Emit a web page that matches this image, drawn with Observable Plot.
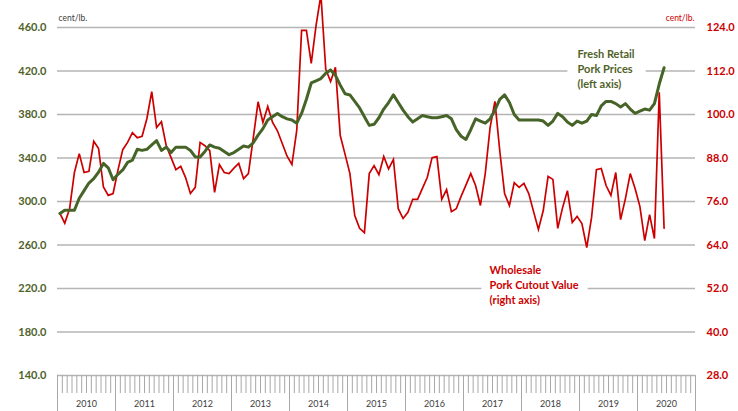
<!DOCTYPE html>
<html>
<head>
<meta charset="utf-8">
<script src="https://cdn.jsdelivr.net/npm/d3@7"></script>
<script src="https://cdn.jsdelivr.net/npm/@observablehq/plot@0.6"></script>
<style>
  html, body { margin: 0; padding: 0; background: #fff; }
  #chart svg { display: block; }
</style>
</head>
<body>
<div id="chart"></div>
<script>
// ---- data (monthly, Jan 2010 – Jun 2020) ----
const years = ["2010","2011","2012","2013","2014","2015","2016","2017","2018","2019","2020"];
const leftTicks = [140, 180, 220, 260, 300, 340, 380, 420, 460];
const rightTicks = [28, 40, 52, 64, 76, 88, 100, 112, 124];

// Fresh retail pork prices, cent/lb. (left axis)
const retail = [
  289, 292, 292, 292, 303, 310, 317, 321, 327, 335, 331, 320,
  325, 329, 336, 338, 348, 347, 348, 352, 356, 347, 350, 345,
  350, 350, 350, 347, 341, 341, 346, 352, 350, 349, 346, 343,
  345, 348, 351, 350, 354, 361, 367, 375, 378, 381, 378, 376,
  375, 372, 381, 394, 409, 411, 413, 418, 421, 416, 407, 399,
  398, 392, 386, 378, 370, 371, 377, 385, 391, 398, 391, 384,
  378, 373, 376, 379, 378, 377, 377, 378, 379, 376, 366, 360,
  357, 366, 376, 374, 372, 376, 384, 394, 398, 391, 380, 375,
  375, 375, 375, 375, 374, 370, 374, 381, 378, 373, 370, 374,
  372, 374, 380, 379, 388, 392, 392, 390, 387, 390, 385, 381,
  383, 385, 384, 390, 408, 423
];

// Wholesale pork cutout value, cent/lb. (right axis)
const cutout = [
  72.7, 70.0, 74.0, 84.0, 89.2, 84.0, 84.3, 92.6, 90.6, 80.0, 77.7, 78.2,
  84.6, 90.3, 92.3, 95.0, 93.6, 94.0, 98.9, 106.3, 96.4, 98.0, 91.4, 88.1,
  84.8, 85.7, 82.6, 78.2, 79.9, 92.3, 91.4, 90.0, 78.5, 86.2, 84.0, 83.7,
  85.2, 86.5, 82.3, 83.7, 93.5, 103.5, 97.8, 102.2, 97.8, 95.5, 92.0, 88.5,
  86.2, 95.6, 123.2, 123.2, 114.1, 124.6, 133.0, 112.5, 109.1, 113.0, 94.2, 89.0,
  83.7, 72.1, 68.6, 67.4, 83.7, 85.9, 83.4, 88.4, 85.0, 87.6, 74.0, 71.3,
  73.0, 76.6, 76.6, 79.6, 82.6, 88.1, 88.4, 76.6, 79.3, 73.2, 74.0, 77.4,
  80.5, 83.7, 80.4, 74.9, 83.7, 96.4, 103.6, 90.0, 78.2, 74.9, 81.2, 79.9,
  81.0, 78.2, 73.2, 68.3, 73.5, 82.9, 82.1, 68.6, 74.3, 79.0, 70.2, 71.9,
  69.9, 63.3, 71.6, 84.8, 85.1, 80.4, 77.7, 84.0, 71.0, 76.8, 83.7, 79.6,
  74.6, 65.2, 72.4, 65.8, 106.1, 68.6
];

const retailLabel = "Fresh Retail\nPork Prices\n(left axis)";
const cutoutLabel = "Wholesale\nPork Cutout Value\n(right axis)";
const unitLabel = "cent/lb.";

// ---- helpers ----
const nMonths = years.length * 12;
// map right-axis value onto the left-axis scale (linear relation between the two axes)
const rMin = rightTicks[0], rMax = rightTicks[rightTicks.length - 1];
const lMin = leftTicks[0], lMax = leftTicks[leftTicks.length - 1];
const toLeft = r => lMin + (r - rMin) * (lMax - lMin) / (rMax - rMin);

const GREEN_TXT = "#4F6228";
const GREEN_LINE = "#466428";
const RED = "#CC0000";
const GRID = "#b5b5b5";
const FONT = "Lato, 'Open Sans', sans-serif";

const monthBounds = d3.range(0, nMonths + 1);
const yearBounds = d3.range(0, nMonths + 1, 12);
const yearCenters = years.map((y, i) => i * 12 + 6);

const chart = Plot.plot({
  width: 738,
  height: 411,
  marginLeft: 57,
  marginRight: 43,
  marginTop: 27,
  marginBottom: 36,
  style: { fontFamily: FONT, background: "#fff" },
  x: { domain: [0, nMonths], axis: null },
  y: { domain: [lMin, lMax], axis: null },
  marks: [
    Plot.ruleY(leftTicks, { stroke: GRID, strokeWidth: 1.4 }),
    // white boxes behind the series labels
    Plot.rect([0], { x1: 105.6, x2: 121.8, y1: 403, y2: 444, fill: "#fff" }),
    Plot.rect([0], { x1: 87.8, x2: 109.8, y1: 203, y2: 244, fill: "#fff" }),
    Plot.line(cutout, {
      x: (d, i) => i + 0.5, y: d => toLeft(d),
      stroke: RED, strokeWidth: 1.7, strokeLinejoin: "miter", strokeMiterlimit: 4
    }),
    Plot.line(retail, {
      x: (d, i) => i + 0.5, y: d => d,
      stroke: GREEN_LINE, strokeWidth: 3, strokeLinejoin: "round"
    }),
    // series labels
    Plot.text([retailLabel], {
      text: d => d, x: 107.6, y: 422.3, textAnchor: "start", lineAnchor: "middle",
      fontSize: 11, fontWeight: "bold", lineHeight: 1.36, fill: GREEN_TXT
    }),
    Plot.text([cutoutLabel], {
      text: d => d, x: 89.4, y: 223.7, textAnchor: "start", lineAnchor: "middle",
      fontSize: 11, fontWeight: "bold", lineHeight: 1.36, fill: RED
    }),
    // unit labels
    Plot.text([unitLabel], {
      text: d => d, frameAnchor: "top-left", dx: 1, dy: -13, textAnchor: "start",
      fontSize: 8.5, fill: "#404040"
    }),
    Plot.text([unitLabel], {
      text: d => d, frameAnchor: "top-right", dx: -1, dy: -13, textAnchor: "end",
      fontSize: 8.5, fill: RED
    }),
    // y axes
    Plot.axisY(leftTicks, {
      anchor: "left", tickSize: 0, tickPadding: 11, label: null,
      tickFormat: d => d.toFixed(1),
      fill: GREEN_TXT, fontWeight: "bold", fontSize: 11
    }),
    Plot.axisY(leftTicks, {
      anchor: "right", tickSize: 0, tickPadding: 11, label: null,
      tickFormat: d => rightTicks[leftTicks.indexOf(d)].toFixed(1),
      fill: RED, fontWeight: "bold", fontSize: 11
    }),
    // x axis: month ticks, year separators, year labels
    Plot.axisX(monthBounds, {
      anchor: "bottom", tickSize: 18, tickFormat: () => "", label: null,
      stroke: "#a8a8a8", strokeWidth: 1
    }),
    Plot.axisX(yearBounds, {
      anchor: "bottom", tickSize: 36, tickFormat: () => "", label: null,
      stroke: "#a8a8a8", strokeWidth: 1
    }),
    Plot.axisX(yearCenters, {
      anchor: "bottom", tickSize: 0, tickPadding: 25, label: null,
      tickFormat: d => years[(d - 6) / 12],
      fill: "#404040", fontSize: 9
    })
  ]
});

document.getElementById("chart").appendChild(chart);
</script>
</body>
</html>
